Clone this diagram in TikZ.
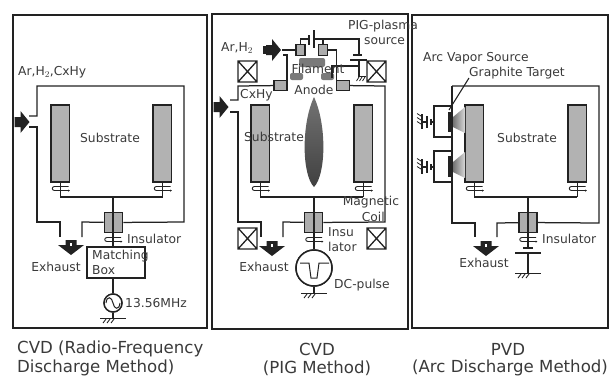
\documentclass[tikz,border=0pt]{standalone}
\usepackage{fontspec}
\setmainfont{DejaVu Sans}
\definecolor{inkdark}{HTML}{222222}
\definecolor{labelgray}{HTML}{3A3A3A}
\tikzset{
  panel/.style={draw=inkdark, line width=1.7pt},
  wire/.style={draw=inkdark, line width=1.25pt},
  substrate/.style={draw=inkdark, fill=black!30, line width=1.6pt},
  insulatorbox/.style={draw=inkdark, fill=black!32, line width=1.6pt, minimum width=18pt, minimum height=20pt, inner sep=0pt},
  portbox/.style={draw=inkdark, fill=black!32, line width=1.3pt, minimum width=13pt, minimum height=10.5pt, inner sep=0pt},
  feedbox/.style={draw=inkdark, fill=black!32, line width=1.3pt, minimum width=9pt, minimum height=10.5pt, inner sep=0pt},
  coilbox/.style={draw=inkdark, line width=1.3pt},
  lbl/.style={text=labelgray, font=\fontsize{12.3}{13}\selectfont, inner sep=0pt},
  captiontext/.style={text=labelgray, font=\fontsize{16.6}{18}\selectfont, inner sep=0pt},
  pics/seal/.style={code={
    \draw[inkdark, line width=.9pt] (8,-2) -- (-6,-2) .. controls (-9,-2) and (-9,2) .. (-6,2) -- (9,2);
    \fill[inkdark] (8,2) circle (1);
  }},
  pics/ground/.style={code={
    \draw[inkdark, line width=1pt] (-13,0) -- (13,0);
    \foreach \h in {-7,-3,1} \draw[inkdark, line width=.9pt] (\h,1) -- ++(-3,4);
  }},
  pics/exhaustarrow/.style={code={
    \fill[inkdark] (-5.5,0) -- (5.5,0) -- (5.5,5) -- (13,5) -- (0,15) -- (-13,5) -- (-5.5,5) -- cycle;
    \fill[white] (-.7,3) rectangle (.7,6);
  }},
  pics/inletarrow/.style={code={
    \fill[inkdark] (0,-5) -- (6,-5) -- (6,-11) -- (15,0) -- (6,11) -- (6,5) -- (0,5) -- cycle;
  }},
}
\begin{document}
\begin{tikzpicture}[x=1pt, y=-1pt]
\useasboundingbox (0,0) rectangle (611,376);

\draw[panel] (13,15) rectangle (207,328);
\draw[panel] (212,14) rectangle (408,329);
\draw[panel] (412,15) rectangle (608,328);

\foreach \x in {51,153,251,354,465,568} {
  \draw[wire] (\x+9.5,182) -- (\x+9.5,197);
  \pic at (\x+9.5,188.5) {seal};
  \draw[substrate] (\x,105) rectangle ++(18.5,77);
}
\draw[wire] (60,197) -- (163,197) (260,197) -- (363,197) (474,197) -- (577,197);

\node[insulatorbox] (insA) at (113.5,222.5) {};
\node[insulatorbox] (insB) at (313.5,222.5) {};
\node[insulatorbox] (insC) at (528,222.5) {};
\node[portbox] (portL) at (280.5,85.5) {};
\node[portbox] (portR) at (343,85.5) {};
\node[feedbox] (feedL) at (300.5,50) {};
\node[feedbox] (feedR) at (323,50) {};

\draw[wire] (29,116) -- (37,116) -- (37,86) -- (184,86) -- (184,222) -- (insA);
\draw[wire] (29,127) -- (37,127) -- (37,222) -- (60,222) -- (60,237);
\draw[wire] (82,237) -- (82,222) -- (insA);
\draw[wire] (230,100) -- (238,100) -- (238,86) -- (portL);
\draw[wire] (230,112) -- (238,112) -- (238,222) -- (261,222) -- (261,237);
\draw[wire] (283,237) -- (283,222) -- (insB);
\draw[wire] (insB) -- (385,222) -- (385,86) -- (portR);
\draw[wire] (452,86) -- (599,86) -- (599,223) -- (insC);
\draw[wire] (452,86) -- (452,223) -- (475,223) -- (475,237);
\draw[wire] (497,237) -- (497,223) -- (insC);

\node[draw=inkdark, line width=1.5pt, minimum width=58pt, minimum height=31pt, inner sep=0pt] (matchbox) at (116,262.5) {};
\node[draw=inkdark, line width=1.4pt, circle, minimum size=18pt, inner sep=0pt] (rfsource) at (113,303) {};
\node[draw=inkdark, line width=1.5pt, circle, minimum size=36pt, inner sep=0pt] (dcsource) at (314,268) {};
\coordinate (gndA) at (113,318);
\coordinate (gndB) at (314,293);
\coordinate (gndC) at (528,273);
\coordinate (capTop) at (528,248);
\coordinate (capBot) at (528,253);

\draw[wire] (113,197) -- (113,247);
\draw[wire] (matchbox.south -| rfsource) -- (rfsource) (rfsource) -- (gndA);
\draw[wire] (314,197) -- (dcsource);
\draw[wire] (dcsource) -- (gndB);
\draw[wire] (528,197) -- (capTop) (capBot) -- (gndC);
\draw[inkdark, line width=1.1pt] (523,248) -- (533,248) (515,253) -- (541,253);
\node[draw=inkdark, line width=1.4pt, circle, fill=white, minimum size=18pt, inner sep=0pt] at (rfsource) {};
\node[draw=inkdark, line width=1.5pt, circle, fill=white, minimum size=36pt, inner sep=0pt] at (dcsource) {};
\draw[inkdark, line width=1pt] (106,303) .. controls (107,295) and (112,297) .. (113,303) .. controls (114,309) and (119,311) .. (120,303);
\draw[inkdark, line width=1pt] (300,263) -- (309,263) -- (311,278) -- (317,278) -- (319,263) -- (329,263);

\pic at (gndA) {ground};
\pic at (gndB) {ground};
\pic at (gndC) {ground};
\foreach \x in {113,314,528} \pic at (\x,239.5) {seal};

\foreach \x/\y in {71/240, 272/241, 486/241} \pic at (\x,\y) {exhaustarrow};
\foreach \x/\y in {14.5/122, 213.5/107} \pic at (\x,\y) {inletarrow};
\pic at (266,50) {inletarrow};
\fill[inkdark] (263,46) rectangle (268,54);

\foreach \x/\y in {238/61, 367/61, 238/228, 367/228}
  \draw[coilbox] (\x,\y) rectangle ++(19,21) (\x,\y) -- ++(19,21) (\x+19,\y) -- ++(-19,21);

\coordinate (feedRturn) at (336.5,50);
\draw[wire] (282,50) -- (feedL);
\draw[wire] (283,55) -- (287,55) -- (287,80);
\draw[wire] (feedL) -- (300.5,39) -- (309,39) (314,39) -- (359,39) -- (359,55);
\draw[wire] (323,39) -- (feedR);
\draw[wire] (feedR) -- (feedRturn) -- (336.5,80);
\draw[inkdark, line width=1.1pt] (309,35) -- (309,45);
\draw[inkdark, line width=1.1pt] (314,30) -- (314,48);
\draw[inkdark, line width=1.1pt] (353,55) -- (362,55) (350,60) -- (367,60);
\draw[wire] (359,60) -- (359,77);
\foreach \h in {359,362,365} \draw[inkdark, line width=.8pt] (\h,77) -- ++(-2.5,4);
\draw[inkdark, line width=.9pt] (358,76.5) -- (366,76.5);

\fill[black!52, rounded corners=2pt] (299,58) rectangle (325,67);
\fill[black!52, rounded corners=2pt] (290,73) rectangle (303,80);
\fill[black!52, rounded corners=2pt] (321,73) rectangle (334,80);
\draw[wire] (332,78) -- (332,66) -- (358,66);

\shade[top color=black!55, middle color=black!35, bottom color=black!75] (314,97) .. controls (301,125) and (302,175) .. (314,187) .. controls (326,175) and (327,125) .. (314,97) -- cycle;

\foreach \y/\yt/\yb in {122/112/132, 167/156/177} {
  \draw[wire] (452,\y-16) -- (434,\y-16) -- (434,\y+15) -- (452,\y+15);
  \fill[inkdark] (448,\yt) rectangle (452,\yb);
  \shade[left color=black!55, right color=black!15] (453,\y-5) -- (465,\y-15) -- (465,\y+11) -- (453,\y+5) -- cycle;
  \draw[inkdark, line width=1.1pt] (434,\y) -- (431,\y) (431,\y-3) -- (431,\y+3) (427,\y-6) -- (427,\y+6) (427,\y) -- (422,\y) (422,\y-8) -- (422,\y+7);
  \foreach \h in {-6,-2,2} \draw[inkdark, line width=.8pt] (421,\y+\h) -- ++(-4,-2.5);
}
\coordinate (leaderA) at (469,78);
\coordinate (leaderB) at (449,110);
\draw[inkdark, line width=1.1pt] (leaderA) -- (leaderB);

\node[lbl, anchor=west] (gasA) at (18,72) {Ar,H$_2$,CxHy};
\node[lbl] (subA) at (110,138) {Substrate};
\node[lbl, anchor=west] (insuA) at (127,239) {Insulator};
\node[lbl, anchor=west] (matchA) at (92,256) {Matching};
\node[lbl, anchor=west] (matchB) at (92,270) {Box};
\node[lbl] (exhA) at (56,267) {Exhaust};
\node[lbl, anchor=west] (freq) at (125,303) {13.56MHz};

\node[lbl, anchor=west] (gasB) at (221,48) {Ar,H$_2$};
\node[lbl, anchor=west] (cxhy) at (240,95) {CxHy};
\node[lbl, anchor=west] (pig) at (348,26) {PIG-plasma};
\node[lbl, anchor=west] (pigb) at (364,41) {source};
\node[lbl] (filament) at (318,69) {Filament};
\node[lbl] (anode) at (314,90) {Anode};
\node[lbl] (subB) at (274,137) {Substrate};
\node[lbl] (magA) at (371,202) {Magnetic};
\node[lbl, anchor=east] (magB) at (385,217) {Coil};
\node[lbl, anchor=west] (insuB) at (328,232) {Insu};
\node[lbl, anchor=west] (insuC) at (328,247) {lator};
\node[lbl] (exhB) at (264,267) {Exhaust};
\node[lbl, anchor=west] (dcp) at (334,285) {DC-pulse};

\node[lbl, anchor=west] (arc) at (423,58) {Arc Vapor Source};
\node[lbl, anchor=west] (graph) at (469,73) {Graphite Target};
\node[lbl] (subC) at (527,138) {Substrate};
\node[lbl, anchor=west] (insuD) at (542,239) {Insulator};
\node[lbl] (exhC) at (484,263) {Exhaust};

\node[captiontext, anchor=west] (capA) at (17,349) {CVD (Radio-Frequency};
\node[captiontext, anchor=west] (capB) at (17,368) {Discharge Method)};
\node[captiontext] (capC) at (317,349) {CVD};
\node[captiontext] (capD) at (317,368) {(PIG Method)};
\node[captiontext] (capE) at (508,349) {PVD};
\node[captiontext] (capF) at (510,368) {(Arc Discharge Method)};
\end{tikzpicture}
\end{document}
